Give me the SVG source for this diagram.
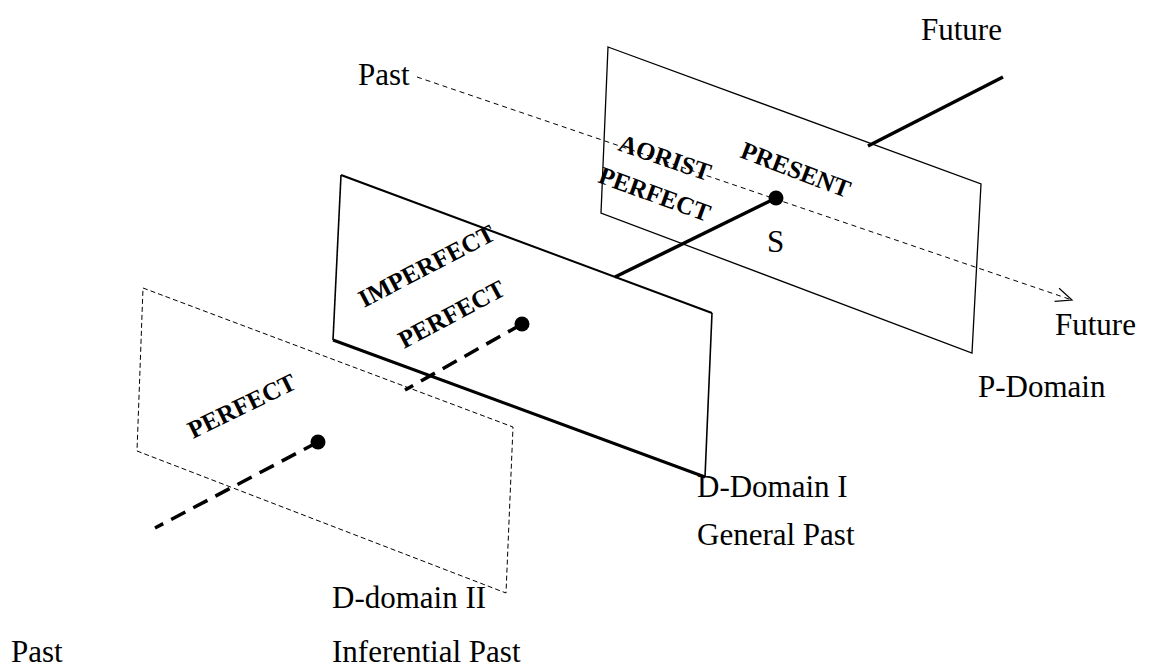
<svg xmlns="http://www.w3.org/2000/svg" width="1152" height="669" viewBox="0 0 1152 669">
  <style>
    .lbl { font-family: "Liberation Serif", "Times New Roman", serif; font-size: 31px; fill: #000; }
    .tense { font-family: "Liberation Serif", "Times New Roman", serif; font-size: 25px; font-weight: bold; fill: #000; }
    .thin { fill: none; stroke: #000; stroke-width: 1.3; }
    .dashplane { fill: none; stroke: #000; stroke-width: 1; stroke-dasharray: 5 3; }
    .axis { fill: none; stroke: #000; stroke-width: 3.5; }
    .axisdash { fill: none; stroke: #000; stroke-width: 3.5; stroke-dasharray: 16 9; }
    .time { fill: none; stroke: #000; stroke-width: 1; stroke-dasharray: 5 4; }
  </style>
  <defs>
    <marker id="open-arrow" markerWidth="20" markerHeight="20" refX="18" refY="10" orient="auto" markerUnits="userSpaceOnUse">
      <path d="M2,3 L18,10 L2,17" fill="none" stroke="#000" stroke-width="1.2"/>
    </marker>
  </defs>
  <rect width="1152" height="669" fill="#fff"/>

  <!-- D-domain II : inferential past plane -->
  <g id="d-domain-2">
    <polygon class="dashplane" points="143,288 513,427 506,593 137,451"/>
    <text class="tense" transform="translate(193,439) rotate(-26)">PERFECT</text>
    <circle cx="318" cy="442" r="7.5" fill="#000"/>
    <text class="lbl" x="332" y="608">D-domain II</text>
    <text class="lbl" x="332" y="662">Inferential Past</text>
  </g>

  <!-- D-Domain I : general past plane -->
  <g id="d-domain-1">
    <line class="thin" x1="341" y1="175" x2="333" y2="340" style="stroke-width:1.6"/>
    <line class="thin" x1="341" y1="175" x2="712" y2="313" style="stroke-width:2"/>
    <line class="thin" x1="712" y1="313" x2="705" y2="477" style="stroke-width:1.6"/>
    <line class="thin" x1="333" y1="340" x2="705" y2="477" style="stroke-width:3"/>
    <text class="tense" transform="translate(364,308) rotate(-27.5)">IMPERFECT</text>
    <text class="tense" transform="translate(404,349) rotate(-28)">PERFECT</text>
    <circle cx="522" cy="324" r="7.5" fill="#000"/>
    <text class="lbl" x="697" y="497">D-Domain I</text>
    <text class="lbl" x="697" y="545">General Past</text>
  </g>

  <!-- P-Domain : present plane -->
  <g id="p-domain">
    <polygon class="thin" points="608,47 981,184 972,353 601,213"/>
    <text class="tense" transform="translate(617,150) rotate(19)">AORIST</text>
    <text class="tense" transform="translate(597,182) rotate(20)">PERFECT</text>
    <text class="tense" transform="translate(739,157) rotate(21)">PRESENT</text>
    <circle cx="776" cy="198" r="7.5" fill="#000"/>
    <text class="lbl" x="767" y="252">S</text>
    <text class="lbl" x="978" y="397">P-Domain</text>
  </g>

  <!-- time axes -->
  <g id="connectors">
    <line class="time" x1="417" y1="77" x2="1072" y2="300" marker-end="url(#open-arrow)"/>
    <line class="axis" x1="868" y1="146" x2="1003" y2="77"/>
    <line class="axis" x1="615" y1="277" x2="776" y2="198"/>
    <line class="axisdash" x1="522" y1="324" x2="405" y2="390"/>
    <line class="axisdash" x1="318" y1="442" x2="155" y2="528"/>
  </g>

  <!-- axis end labels -->
  <g id="axis-labels">
    <text class="lbl" x="921" y="40">Future</text>
    <text class="lbl" x="358" y="85">Past</text>
    <text class="lbl" x="1055" y="335">Future</text>
    <text class="lbl" x="11" y="662">Past</text>
  </g>
</svg>
